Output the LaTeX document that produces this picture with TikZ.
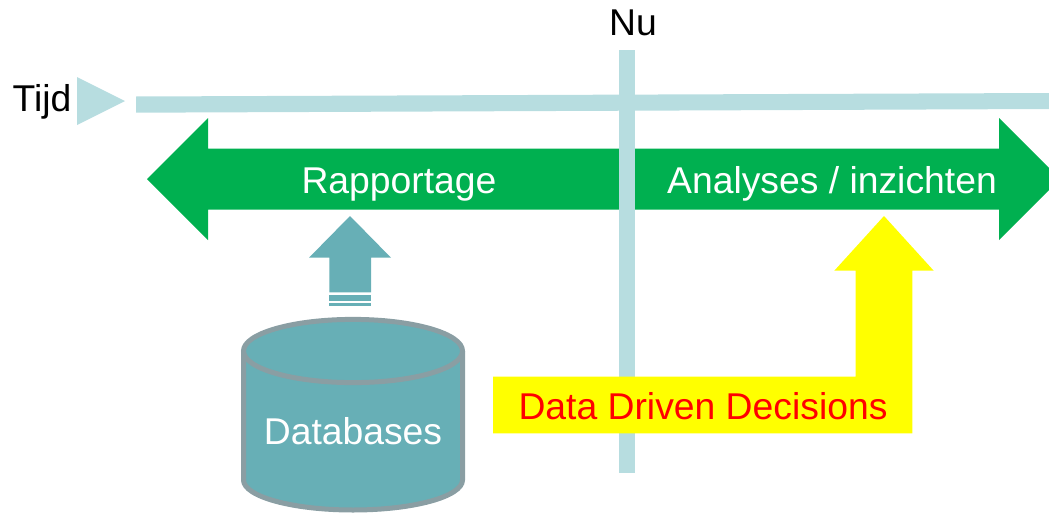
\documentclass[tikz,border=0pt]{standalone}
\usepackage{fontspec}
\setmainfont{Liberation Sans}
\definecolor{lijn}{HTML}{B7DDE0}
\definecolor{groen}{HTML}{00B050}
\definecolor{blauwgroen}{HTML}{67AFB6}
\definecolor{rand}{HTML}{8A9EA3}
\definecolor{geel}{HTML}{FFFF00}
\definecolor{rood}{HTML}{FF0000}
\tikzset{
label/.style={anchor=base,inner sep=0pt,font=\fontsize{37.3}{40}\selectfont},
}
\begin{document}
\begin{tikzpicture}[x=1pt,y=-1pt]
\path[use as bounding box,clip] (0,0) rectangle (1049,514);
\fill [groen] (147,179)--(208,118)--(208,148.5)--(999,148.5)--(999,118)--(1060,179)--(999,240)--(999,209.5)--(208,209.5)--(208,240)--cycle;
\fill [lijn] (136,96.5)--(1049,93)--(1049,109)--(136,112.7)--cycle;
\fill [lijn] (77,77)--(125,101)--(77,125)--cycle;
\fill [lijn] (619,50) rectangle (635,473);
\fill [blauwgroen] (350,216)--(391,257.7)--(371,257.7)--(371,292.3)--(329.3,292.3)--(329.3,257.7)--(309,257.7)--cycle;
\fill [blauwgroen] (329.3,295.3) rectangle (371,300.7);
\fill [blauwgroen] (329.3,303) rectangle (371,306);
\filldraw [blauwgroen,draw=rand,line width=5pt] (243.5,351)--(243.5,480) arc [x radius=109.5,y radius=30,start angle=180,end angle=0,y=-1pt]--(462.5,351);
\filldraw [blauwgroen,draw=rand,line width=5pt] (353,351) ellipse [x radius=109.5,y radius=31.6];
\fill [geel] (493,376.7)--(855.7,376.7)--(855.7,270.7)--(834.3,270.7)--(884,216)--(933.7,270.7)--(912.3,270.7)--(912.3,433.3)--(493,433.3)--cycle;
\node[label] (tijd) at (42,111){Tijd};
\node[label] (nu) at (633,35){Nu};
\node[label,white] (rapportage) at (399,193){Rapportage};
\node[label,white] (analyses) at (832,193){Analyses / inzichten};
\node[label,white] (databases) at (353,444){Databases};
\node[label,rood] (decisions) at (703,419){Data Driven Decisions};
\end{tikzpicture}
\end{document}
